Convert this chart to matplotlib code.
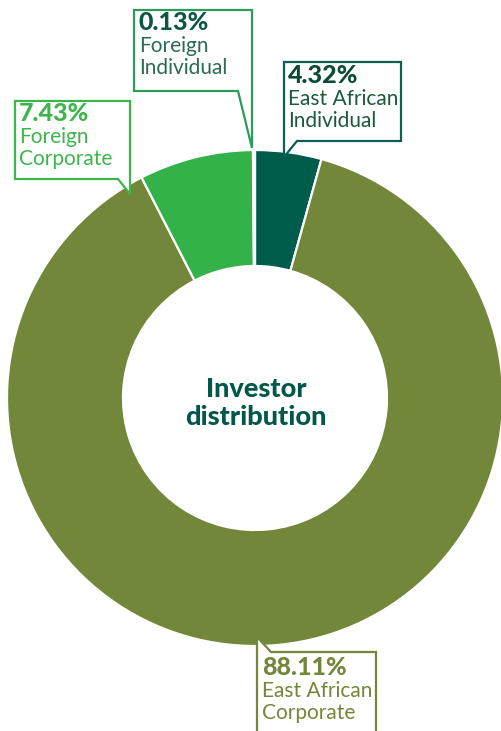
import matplotlib
matplotlib.use("Agg")
import matplotlib.pyplot as plt
from matplotlib.patches import Polygon

# ---- data ----
categories = ["East African Individual", "East African Corporate", "Foreign Corporate", "Foreign Individual"]
values = [4.32, 88.11, 7.43, 0.13]
label_lines = [["East African", "Individual"], ["East African", "Corporate"], ["Foreign", "Corporate"], ["Foreign", "Individual"]]
pct_labels = ["4.32%", "88.11%", "7.43%", "0.13%"]
wedge_colors = ["#005C4B", "#73873A", "#34B24A", "#8DC89A"]
text_colors_bold = ["#0B4A35", "#73873A", "#3DB54A", "#0E5644"]
text_colors_reg = ["#1D5A3C", "#73873A", "#3DB54A", "#2B6B55"]
box_colors = ["#0F5E52", "#73873A", "#3DB54A", "#2E9A5C"]
center_title = "Investor\ndistribution"

W, H = 502, 731
fig = plt.figure(figsize=(W / 100, H / 100), dpi=100)
ax = fig.add_axes([0, 0, 1, 1])

def Y(py):
    return H - py

cx, cy, R = 255, Y(398), 248
ax.pie(values, colors=wedge_colors, startangle=90, counterclock=False,
       radius=R, center=(cx, cy), frame=True,
       wedgeprops=dict(width=R - 132, edgecolor="white", linewidth=1.6))
ax.set_xlim(0, W)
ax.set_ylim(0, H)
ax.axis("off")

# callout boxes (pixel outlines)
boxes = [
    [(284, 62), (401, 62), (401, 141), (297, 141), (284, 157)],
    [(257, 637), (271, 652), (376, 652), (376, 745), (257, 745)],
    [(15, 101), (130, 101), (130, 194), (118, 179), (15, 179)],
    [(134, 10), (252, 10), (252, 148), (238, 91), (134, 91)],
]
text_pos = [(288, 83), (262, 675), (19, 121), (139, 30)]

font = "Lato"
for i in range(4):
    pts = [(x, Y(y)) for x, y in boxes[i]]
    ax.add_patch(Polygon(pts, closed=True, facecolor="white", edgecolor=box_colors[i],
                         linewidth=1.6, zorder=5, joinstyle="miter"))
    tx, ty = text_pos[i]
    ax.text(tx, Y(ty), pct_labels[i], fontsize=18, fontweight="black", family=font,
            color=text_colors_bold[i], ha="left", va="baseline", zorder=6)
    for j, line in enumerate(label_lines[i]):
        ax.text(tx, Y(ty + 22 * (j + 1)), line, fontsize=15, family=font,
                color=text_colors_reg[i], ha="left", va="baseline", zorder=6)

ax.text(cx + 1, Y(403), center_title, fontsize=19.5, fontweight="black", family=font,
        color="#00574A", ha="center", va="center", linespacing=1.2, zorder=6)

fig.savefig("out.png", dpi=100, facecolor="white")
